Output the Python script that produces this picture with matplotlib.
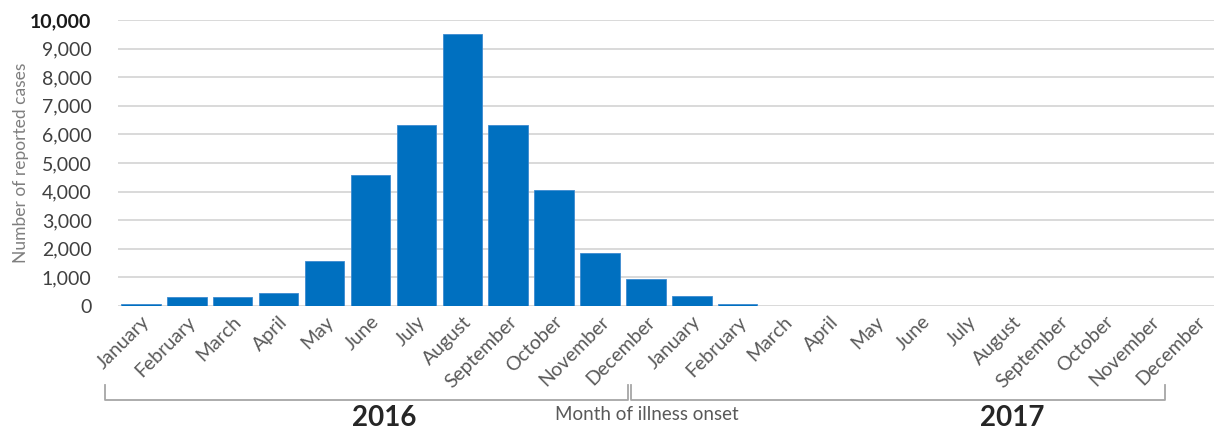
import matplotlib
matplotlib.use("Agg")
import matplotlib.pyplot as plt
import matplotlib.transforms as mtransforms
from matplotlib.ticker import FuncFormatter
import numpy as np

plt.rcParams['font.family'] = ['Lato', 'DejaVu Sans']

months = ['January', 'February', 'March', 'April', 'May', 'June', 'July',
          'August', 'September', 'October', 'November', 'December']
labels = months + months
years = ['2016', '2017']
cases_2016 = [80, 320, 310, 450, 1590, 4580, 6340, 9500, 6320, 4070, 1870, 940]
cases_2017 = [360, 80, 0, 0, 0, 0, 0, 0, 0, 0, 0, 0]
cases = cases_2016 + cases_2017
y_ticks = list(range(0, 10001, 1000))

W, H = 1214, 433
fig = plt.figure(figsize=(W / 100, H / 100), dpi=100)
ax = fig.add_axes([118 / W, (H - 306) / H, (W - 118) / W, (306 - 20) / H])

x = np.arange(len(cases))
ax.bar(x, cases, width=0.86, color='#0070C0', edgecolor='#3d8ad0', linewidth=0.6, zorder=3)

ax.set_xlim(-0.5, (W - 141) / 45.9)
ax.set_ylim(0, 10000)
ax.set_yticks(y_ticks)
ax.yaxis.set_major_formatter(FuncFormatter(lambda v, p: f'{int(v):,}'))
ax.grid(axis='y', color='#d9d9d9', linewidth=1.4, zorder=0)
ax.grid(axis='x', visible=False)
for s in ax.spines.values():
    s.set_visible(False)

ax.tick_params(axis='y', length=0, pad=19, labelsize=14, labelcolor='#404040')
for t in ax.get_yticklabels():
    if t.get_text() == '10,000':
        t.set_fontweight('bold')
        t.set_color('#1a1a1a')

ax.set_xticks(x)
ax.set_xticklabels(labels, rotation=45, ha='right', va='top', rotation_mode='anchor',
                   fontsize=14, color='#595959')
ax.tick_params(axis='x', length=0, pad=5)

ax.set_ylabel('Number of reported cases', fontsize=12.5, color='#7f7f7f', labelpad=1)

# year brackets below the category labels
trans = mtransforms.blended_transform_factory(ax.transData, fig.transFigure)
y_lo = 1 - 400 / H
y_hi = 1 - 385 / H
brackets = [(-0.78, 10.62), (10.67, 22.31)]
for x0, x1 in brackets:
    ax.plot([x0, x0, x1, x1], [y_hi, y_lo, y_lo, y_hi], transform=trans,
            color='#a6a6a6', linewidth=1.3, clip_on=False)

year_x = [5.29, 18.98]
for yx, yr in zip(year_x, years):
    ax.text(yx, 1 - 418 / H, yr, transform=trans, ha='center', va='center',
            fontsize=20, fontweight='bold', color='#262626')

ax.text(11.02, 1 - 415 / H, 'Month of illness onset', transform=trans,
        ha='center', va='center', fontsize=13.5, color='#595959')

fig.savefig('out.png', dpi=100)
